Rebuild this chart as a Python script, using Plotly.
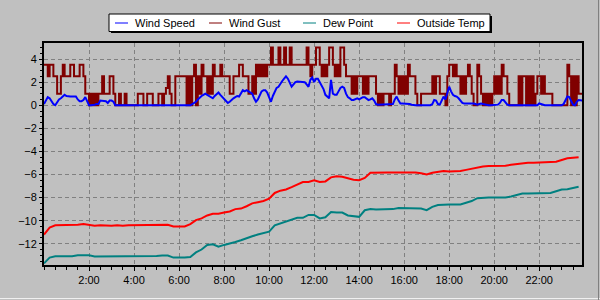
import pandas as pd
import plotly.graph_objects as go

# ---------------- data ----------------
series_names = ["Wind Speed", "Wind Gust", "Dew Point", "Outside Temp"]
series_colors = ["#0000FF", "#800000", "#008080", "#FF0000"]

# wind gust, 5-minute samples, one row per hour
wind_gust = [
    3.5, 3.5, 2.5, 3.5, 3.5, 2.5, 2.5, 1.0, 1.0, 2.5, 3.5, 2.5,
    2.5, 2.5, 3.5, 3.5, 2.5, 2.5, 2.5, 3.5, 3.5, 2.5, 1.0, 1.0,
    0.0, 1.0, 0.0, 1.0, 0.0, 1.0, 1.0, 2.5, 1.0, 1.0, 1.0, 2.5,
    2.5, 1.0, 0.0, 0.0, 1.0, 0.0, 0.0, 1.0, 0.0, 0.0, 0.0, 0.0,
    0.0, 0.0, 1.0, 1.0, 1.0, 0.0, 0.0, 1.0, 1.0, 1.0, 0.0, 0.0,
    0.0, 1.0, 1.0, 0.0, 1.0, 1.5, 2.5, 1.0, 0.0, 0.0, 2.5, 2.5,
    2.5, 2.5, 2.5, 2.5, 0.0, 2.5, 0.0, 2.5, 3.5, 0.0, 2.5, 1.0,
    3.5, 2.5, 2.5, 1.0, 2.5, 1.0, 3.5, 2.5, 2.5, 2.5, 3.5, 2.5,
    2.5, 2.5, 2.5, 1.0, 1.0, 2.5, 2.5, 2.5, 3.5, 3.5, 2.5, 2.5,
    2.5, 1.0, 1.0, 2.5, 1.0, 3.5, 2.5, 3.5, 2.5, 3.5, 2.5, 3.5,
    3.5, 5.0, 3.5, 3.5, 3.5, 5.0, 3.5, 3.5, 5.0, 3.5, 3.5, 5.0,
    3.5, 3.5, 3.5, 3.5, 3.5, 3.5, 3.5, 3.5, 5.0, 3.5, 2.5, 3.5,
    3.5, 5.0, 5.0, 3.5, 2.5, 3.5, 2.5, 3.5, 5.0, 5.0, 3.5, 2.5,
    3.5, 2.5, 5.0, 5.0, 3.5, 2.5, 2.5, 2.5, 1.0, 2.5, 1.0, 2.5,
    2.5, 2.5, 1.0, 2.5, 1.0, 2.5, 2.5, 2.5, 2.5, 1.0, 0.0, 1.0,
    0.0, 1.0, 1.0, 1.0, 0.0, 1.0, 1.0, 3.5, 2.5, 1.0, 2.5, 1.0,
    2.5, 1.0, 3.5, 2.5, 2.5, 2.5, 1.0, 0.0, 0.0, 1.0, 1.0, 1.0,
    1.0, 1.0, 1.0, 2.5, 1.0, 2.5, 2.5, 1.0, 1.0, 1.0, 0.0, 2.5,
    3.5, 3.5, 2.5, 3.5, 2.5, 2.5, 1.0, 2.5, 1.0, 2.5, 3.5, 2.5,
    1.0, 0.0, 0.0, 3.5, 2.5, 1.0, 0.0, 1.0, 0.0, 1.0, 0.0, 1.0,
    2.5, 1.0, 2.5, 1.0, 3.5, 2.5, 2.5, 1.0, 0.0, 0.0, 0.0, 0.0,
    0.0, 2.5, 0.0, 2.5, 2.5, 0.0, 2.5, 0.0, 2.5, 0.0, 1.0, 2.5,
    2.5, 1.0, 2.5, 1.0, 1.0, 1.0, 1.0, 0.0, 0.0, 0.0, 0.0, 0.0,
    0.0, 0.0, 0.0, 3.5, 2.5, 0.0, 2.5, 0.0, 2.5, 1.0, 1.0, 1.0,
]

# wind speed, 5-minute samples, one row per hour
wind_speed = [
    0.1, 0.4, 0.7, 0.6, 0.3, 0.1, 0.0, 0.3, 0.5, 0.6, 0.8, 0.9,
    0.8, 0.75, 0.75, 0.75, 0.75, 0.75, 0.5, 0.35, 0.35, 0.45, 0.7, 0.4,
    0.0, 0.0, 0.0, 0.05, 0.1, 0.1, 0.4, 0.4, 0.4, 0.35, 0.2, 0.4,
    0.4, 0.3, 0.0, 0.0, 0.0, 0.0, 0.0, 0.0, 0.0, 0.0, 0.0, 0.0,
    0.0, 0.0, 0.0, 0.0, 0.0, 0.0, 0.0, 0.0, 0.0, 0.0, 0.0, 0.0,
    0.0, 0.0, 0.0, 0.0, 0.0, 0.0, 0.0, 0.0, 0.0, 0.0, 0.0, 0.0,
    0.0, 0.0, 0.0, 0.0, 0.0, 0.0, 0.0, 0.1, 0.2, 0.3, 0.5, 0.7,
    0.8, 0.9, 1.0, 0.9, 0.8, 0.7, 0.6, 0.8, 1.0, 1.1, 0.9, 0.7,
    0.5, 0.3, 0.2, 0.3, 0.5, 0.6, 0.7, 0.8, 0.75, 1.0, 1.3, 1.2,
    1.3, 1.2, 1.1, 1.0, 0.6, 0.3, 0.5, 0.9, 1.2, 1.3, 1.3, 1.1,
    0.6, 0.3, 0.8, 1.2, 1.5, 1.6, 1.9, 2.1, 2.3, 2.5, 2.3, 2.0,
    1.6, 1.8, 2.0, 2.05, 2.05, 2.05, 2.05, 2.0, 1.8, 1.6, 2.2, 2.4,
    2.0, 2.3, 2.3, 2.0, 1.7, 1.4, 0.9, 0.7, 0.6, 2.2, 1.0, 0.9,
    0.9, 1.2, 1.5, 1.6, 1.5, 1.0, 0.7, 0.6, 0.45, 0.45, 0.5, 0.6,
    0.5, 0.6, 0.7, 0.7, 0.6, 0.45, 0.5, 0.6, 0.4, 0.1, 0.05, 0.05,
    0.05, 0.05, 0.05, 0.05, 0.05, 0.05, 0.1, 0.5, 0.75, 0.4, 0.15, 0.15,
    0.15, 0.15, 0.15, 0.1, 0.05, 0.0, 0.0, 0.0, 0.0, 0.0, 0.0, 0.0,
    0.0, 0.0, 0.0, 0.1, 0.45, 0.4, 0.1, 0.05, 0.4, 0.75, 0.5, 1.0,
    1.6, 1.2, 0.9, 0.8, 0.75, 0.6, 0.35, 0.2, 0.15, 0.15, 0.15, 0.2,
    0.2, 0.15, 0.1, 0.05, 0.1, 0.15, 0.1, 0.05, 0.0, 0.0, 0.0, 0.0,
    0.0, 0.05, 0.05, 0.2, 0.45, 0.45, 0.2, 0.05, 0.0, 0.0, 0.0, 0.0,
    0.0, 0.0, 0.0, 0.0, 0.0, 0.0, 0.0, 0.0, 0.0, 0.0, 0.0, 0.0,
    0.15, 0.1, 0.0, 0.0, 0.0, 0.0, 0.0, 0.0, 0.0, 0.0, 0.0, 0.0,
    0.0, 0.1, 0.4, 0.75, 0.7, 0.4, 0.05, 0.0, 0.3, 0.45, 0.4, 0.4,
]

# outside temperature, 15-minute samples, one row per 3 hours
outside_temp = [
    -11.2, -10.6, -10.4, -10.4, -10.4, -10.4, -10.35, -10.3, -10.4, -10.45, -10.4, -10.45,
    -10.45, -10.4, -10.45, -10.4, -10.4, -10.35, -10.4, -10.4, -10.35, -10.35, -10.35, -10.5,
    -10.5, -10.5, -10.3, -9.95, -9.8, -9.55, -9.4, -9.4, -9.3, -9.2, -9.0, -8.95,
    -8.75, -8.5, -8.4, -8.3, -8.1, -7.6, -7.4, -7.3, -7.1, -6.85, -6.65, -6.65,
    -6.5, -6.65, -6.6, -6.25, -6.15, -6.2, -6.35, -6.45, -6.5, -6.3, -5.85, -5.82,
    -5.82, -5.82, -5.82, -5.82, -5.82, -5.82, -5.82, -5.9, -6.0, -5.85, -5.8, -5.7,
    -5.75, -5.75, -5.7, -5.6, -5.5, -5.4, -5.3, -5.27, -5.27, -5.27, -5.25, -5.15,
    -5.1, -5.0, -4.98, -4.98, -4.95, -4.92, -4.9, -4.9, -4.75, -4.6, -4.55, -4.5,
]

# dew point, 15-minute samples, one row per 3 hours
dew_point = [
    -13.7, -13.2, -13.08, -13.08, -13.08, -13.08, -13.0, -13.0, -13.0, -13.1, -13.1, -13.1,
    -13.1, -13.08, -13.1, -13.1, -13.08, -13.05, -13.05, -13.05, -13.05, -13.02, -13.02, -13.2,
    -13.23, -13.2, -13.15, -12.75, -12.5, -12.1, -12.05, -12.25, -12.1, -12.0, -11.85, -11.7,
    -11.5, -11.35, -11.2, -11.1, -10.95, -10.4, -10.25, -10.1, -9.95, -9.75, -9.75, -9.5,
    -9.5, -9.8, -9.7, -9.25, -9.3, -9.3, -9.55, -9.6, -9.67, -9.1, -9.0, -9.03,
    -9.03, -9.03, -9.0, -8.9, -8.9, -8.9, -8.9, -8.95, -9.09, -8.8, -8.65, -8.6,
    -8.6, -8.6, -8.6, -8.45, -8.3, -8.05, -8.0, -8.0, -8.0, -8.0, -8.0, -7.9,
    -7.8, -7.65, -7.64, -7.64, -7.64, -7.6, -7.6, -7.45, -7.3, -7.27, -7.2, -7.07,
]

day = "2024-01-01"
wind_times = pd.date_range(day + " 00:00", periods=len(wind_gust), freq="5min")
temp_times = pd.date_range(day + " 00:00", periods=len(outside_temp), freq="15min")

x_tick_labels = ["2:00", "4:00", "6:00", "8:00", "10:00", "12:00",
                 "14:00", "16:00", "18:00", "20:00", "22:00"]
x_tick_values = [pd.Timestamp(day + " " + t) for t in x_tick_labels]
y_tick_values = [4, 2, 0, -2, -4, -6, -8, -10, -12]

# ---------------- figure ----------------
W, H = 600, 300
ML, MR, MT, MB = 44, 18, 43, 35
BG = "#C0C0C0"
FONT = "Liberation Sans, Arial, sans-serif"

fig = go.Figure()
fig.add_trace(go.Scatter(x=temp_times, y=dew_point, mode="lines", name=series_names[2],
                         line=dict(color=series_colors[2], width=2)))
fig.add_trace(go.Scatter(x=temp_times, y=outside_temp, mode="lines", name=series_names[3],
                         line=dict(color=series_colors[3], width=2)))
fig.add_trace(go.Scatter(x=wind_times, y=wind_gust, mode="lines", name=series_names[1],
                         line=dict(color=series_colors[1], width=2, shape="hv")))
fig.add_trace(go.Scatter(x=wind_times, y=wind_speed, mode="lines", name=series_names[0],
                         line=dict(color=series_colors[0], width=2)))

fig.update_layout(
    width=W, height=H,
    margin=dict(l=ML, r=MR, t=MT, b=MB),
    paper_bgcolor=BG, plot_bgcolor=BG,
    showlegend=False,
    font=dict(family=FONT, size=11, color="black"),
)
fig.update_xaxes(
    range=[pd.Timestamp(day + " 00:00"), pd.Timestamp(day + " 23:54")],
    tickvals=x_tick_values, ticktext=x_tick_labels,
    ticks="outside", ticklen=4, tickcolor="black",
    showgrid=True, gridcolor="#808080", griddash="4px,3px", gridwidth=1,
    minor=dict(dtick=1800000, tick0=day + " 00:00", ticks="outside", ticklen=3,
               tickcolor="black", showgrid=False),
    showline=True, linecolor="black", linewidth=2, mirror=True,
    zeroline=False, fixedrange=True,
)
fig.update_yaxes(
    range=[-13.84, 5.39],
    tickvals=y_tick_values,
    ticks="outside", ticklen=3, tickcolor="black",
    showgrid=True, gridcolor="#808080", griddash="4px,3px", gridwidth=1,
    minor=dict(dtick=0.5, tick0=0, ticks="outside", ticklen=2,
               tickcolor="black", showgrid=False),
    showline=True, linecolor="black", linewidth=2, mirror=True,
    zeroline=False, fixedrange=True,
)

# ----- manual legend (pixel -> paper coordinates) -----
pw, ph = W - ML - MR, H - MT - MB


def px(x):
    return (x - ML) / pw


def py(y):
    return (H - MB - y) / ph


shapes = []
annotations = []
# shadow + box
shapes.append(dict(type="rect", xref="paper", yref="paper",
                   x0=px(111), x1=px(492), y0=py(16), y1=py(33),
                   fillcolor="black", line=dict(width=0), layer="above"))
shapes.append(dict(type="rect", xref="paper", yref="paper",
                   x0=px(109), x1=px(490), y0=py(14), y1=py(31.5),
                   fillcolor="white", line=dict(color="black", width=1), layer="above"))
line_starts = [115, 209, 303, 397]
for name, color, x0 in zip(series_names, series_colors, line_starts):
    shapes.append(dict(type="line", xref="paper", yref="paper",
                       x0=px(x0), x1=px(x0 + 13), y0=py(23), y1=py(23),
                       line=dict(color=color, width=1), layer="above"))
    annotations.append(dict(xref="paper", yref="paper", x=px(x0 + 18), y=py(23.5),
                            text=name, showarrow=False, xanchor="left", yanchor="middle",
                            font=dict(family=FONT, size=11, color="black")))

# window frame edges
shapes.append(dict(type="line", xref="paper", yref="paper",
                   x0=px(0), x1=px(600), y0=py(298.5), y1=py(298.5),
                   line=dict(color="#F0F0F0", width=1), layer="above"))
shapes.append(dict(type="line", xref="paper", yref="paper",
                   x0=px(598.5), x1=px(598.5), y0=py(0), y1=py(300),
                   line=dict(color="#808080", width=1), layer="above"))

fig.update_layout(shapes=shapes, annotations=annotations)

fig.write_html("out.html")
